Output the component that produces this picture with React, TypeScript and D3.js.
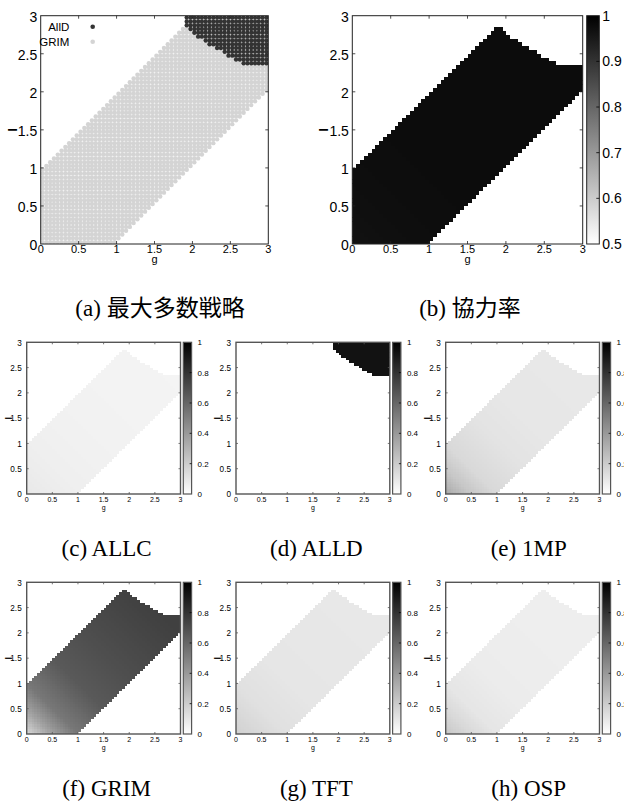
import React, { useEffect, useRef } from 'react';
import * as d3 from 'd3';

// ---- values ----
const axisTicks = [0, 0.5, 1, 1.5, 2, 2.5, 3];
const coopTicks = [0.5, 0.6, 0.7, 0.8, 0.9, 1];
const shareTicks = [0, 0.2, 0.4, 0.6, 0.8, 1];
const gridN = 60; // simulation grid, 0.05 step on g and l

// boundary of the cooperative band (upper edge) and its lower edge
const upperG = [0, 1.9, 2.1, 2.35, 2.6, 2.8, 3];
const upperL = [1, 2.9, 2.7, 2.55, 2.4, 2.33, 2.33];
const lowerG = [1, 3];
const lowerL = [0, 2];
const alldFromG = 1.9; // AllD corner starts here (above the upper edge)

// shares inside the band, sampled along s = g + l
const sKnots = [0, 0.5, 1, 2, 3, 5];
const coopRate = [0.965, 0.97, 0.973, 0.976, 0.977, 0.977];
const allcShare = [0.09, 0.075, 0.065, 0.055, 0.05, 0.045];
const mp1Share = [0.34, 0.22, 0.15, 0.11, 0.095, 0.09];
const grimShare = [0.15, 0.37, 0.53, 0.65, 0.69, 0.75];
const tftShare = [0.18, 0.15, 0.12, 0.1, 0.095, 0.09];
const ospShare = [0.22, 0.15, 0.1, 0.075, 0.07, 0.065];
const alldCorner = 0.93; // ALLD share in the top-right corner

const majorityNames = ['AllD', 'GRIM'];
const majorityColors = ['#333333', '#d4d4d4'];

const bigCaptions = ['(a) 最大多数戦略', '(b) 協力率'];
const smallCaptions = ['(c) ALLC', '(d) ALLD', '(e) 1MP', '(f) GRIM', '(g) TFT', '(h) OSP'];
const smallBand = [allcShare, null, mp1Share, grimShare, tftShare, ospShare];

// ---- layout ----
const sans = '"Liberation Sans", Arial, Helvetica, sans-serif';
const serif = '"Liberation Serif", "Times New Roman", "Noto Sans CJK JP", serif';
const bigX = [[40.7, 268.3], [352.3, 582.7]];
const bigY = [244, 15.7];
const bigCaptionX = [160, 470];
const smallColX = [26.7, 236, 445.7];
const smallRowY = [342.3, 582.3];
const smallW = 153.8;
const smallH = 151.7;
const smallCaptionX = [106.6, 316.4, 528.7];
const smallCaptionY = [556, 796];

type Cell = { g: number; l: number; s: number; region: string };

export default function App() {
    const svgRef = useRef<SVGSVGElement>(null);

    useEffect(() => {
        const svg = d3.select(svgRef.current);
        svg.selectAll('*').remove();

        const upper = d3.scaleLinear().domain(upperG).range(upperL);
        const lower = d3.scaleLinear().domain(lowerG).range(lowerL);
        const step = 3 / gridN;

        const cells: Cell[] = [];
        d3.range(gridN).forEach((i) => {
            d3.range(gridN).forEach((j) => {
                const g = (i + 0.5) * step;
                const l = (j + 0.5) * step;
                const up = upper(g);
                let region = 'none';
                if (l < up - 1e-6 && l > lower(g) + 1e-6) region = 'band';
                else if (g >= alldFromG && l >= up - 1e-6) region = 'alld';
                cells.push({ g, l, s: g + l, region });
            });
        });

        const defs = svg.append('defs');
        const grad = defs.append('linearGradient').attr('id', 'cbar')
            .attr('x1', 0).attr('y1', 1).attr('x2', 0).attr('y2', 0);
        grad.append('stop').attr('offset', '0%').attr('stop-color', '#ffffff');
        grad.append('stop').attr('offset', '100%').attr('stop-color', '#000000');

        let clipId = 0;
        const clip = (x, y) => {
            const id = `clip${clipId++}`;
            defs.append('clipPath').attr('id', id).append('rect')
                .attr('x', x(0)).attr('y', y(3))
                .attr('width', x(3) - x(0)).attr('height', y(0) - y(3));
            return `url(#${id})`;
        };

        const axes = (g, x, y, o) => {
            g.append('rect')
                .attr('x', x(0)).attr('y', y(3))
                .attr('width', x(3) - x(0)).attr('height', y(0) - y(3))
                .attr('fill', 'none').attr('stroke', o.frame).attr('stroke-width', o.fw);
            const tk = g.append('g').attr('stroke', o.frame).attr('stroke-width', 0.8);
            axisTicks.slice(1, -1).forEach((t) => {
                tk.append('line').attr('x1', x(t)).attr('x2', x(t)).attr('y1', y(0)).attr('y2', y(0) - o.tick);
                tk.append('line').attr('x1', x(t)).attr('x2', x(t)).attr('y1', y(3)).attr('y2', y(3) + o.tick);
                tk.append('line').attr('y1', y(t)).attr('y2', y(t)).attr('x1', x(0)).attr('x2', x(0) + o.tick);
                tk.append('line').attr('y1', y(t)).attr('y2', y(t)).attr('x1', x(3)).attr('x2', x(3) - o.tick);
            });
            const lab = g.append('g').attr('font-family', sans).attr('fill', '#000');
            axisTicks.forEach((t) => {
                lab.append('text').attr('x', x(t)).attr('y', y(0) + o.xDy)
                    .attr('font-size', o.xfs).attr('text-anchor', 'middle').text(String(t));
                lab.append('text').attr('x', x(0) - o.yDx).attr('y', y(t) + o.yDy)
                    .attr('font-size', o.yfs).attr('text-anchor', 'end').text(String(t));
            });
            lab.append('text').attr('x', (x(0) + x(3)) / 2).attr('y', y(0) + o.gDy)
                .attr('font-size', o.xfs).attr('text-anchor', 'middle').text('g');
            lab.append('text')
                .attr('transform', `translate(${x(0) - o.lDx},${y(1.5)}) rotate(-90)`)
                .attr('text-anchor', 'middle').attr('font-weight', 'bold')
                .attr('font-size', o.lfs).text('l');
        };

        const colorbar = (g, cx0, cx1, y0, y1, ticks, o) => {
            const cy = d3.scaleLinear().domain([ticks[0], ticks[ticks.length - 1]]).range([y1, y0]);
            g.append('rect').attr('x', cx0).attr('y', y0)
                .attr('width', cx1 - cx0).attr('height', y1 - y0)
                .attr('fill', 'url(#cbar)').attr('stroke', o.frame).attr('stroke-width', o.fw);
            ticks.slice(1, -1).forEach((t) => {
                g.append('line').attr('x1', cx1).attr('x2', cx1 - o.tick)
                    .attr('y1', cy(t)).attr('y2', cy(t)).attr('stroke', '#000').attr('stroke-width', 0.8);
            });
            ticks.forEach((t) => {
                g.append('text').attr('x', cx1 + o.labDx).attr('y', cy(t) + o.yDy)
                    .attr('font-family', sans).attr('font-size', o.fs).text(String(t));
            });
        };

        const heat = (g, x, y, valueOf, color, lo) => {
            const w = x(step) - x(0) + 0.45;
            const h = y(0) - y(step) + 0.45;
            g.attr('shape-rendering', 'crispEdges')
                .selectAll('rect.cell')
                .data(cells.filter((c) => valueOf(c) > lo))
                .join('rect')
                .attr('class', 'cell')
                .attr('x', (d) => x(d.g - step / 2))
                .attr('y', (d) => y(d.l + step / 2))
                .attr('width', w).attr('height', h)
                .attr('fill', (d) => color(valueOf(d)));
        };

        const bigOpts = { frame: '#222', fw: 1, tick: 3, xfs: 11, yfs: 14, xDy: 9.2, yDx: 3.4, yDy: 5.8, gDy: 18.8, lDx: 24, lfs: 12 };
        const smallOpts = { frame: '#555', fw: 1.4, tick: 2, xfs: 7, yfs: 8.2, xDy: 7.7, yDx: 5, yDy: 3.2, gDy: 15.5, lDx: 15, lfs: 9 };

        // (a) majority strategy
        {
            const x = d3.scaleLinear().domain([0, 3]).range(bigX[0]);
            const y = d3.scaleLinear().domain([0, 3]).range(bigY);
            const g = svg.append('g');
            g.append('g').attr('clip-path', clip(x, y))
                .selectAll('circle')
                .data(cells.filter((c) => c.region !== 'none'))
                .join('circle')
                .attr('cx', (d) => x(d.g)).attr('cy', (d) => y(d.l)).attr('r', 2.2)
                .attr('fill', (d) => (d.region === 'alld' ? majorityColors[0] : majorityColors[1]));
            axes(g, x, y, bigOpts);
            majorityNames.forEach((name, k) => {
                const ly = 26.7 + k * 15;
                g.append('text').attr('x', 69.3).attr('y', ly + 4.2).attr('text-anchor', 'end')
                    .attr('font-family', sans).attr('font-size', 11.5).text(name);
                g.append('circle').attr('cx', 92.7).attr('cy', ly).attr('r', 2.3).attr('fill', majorityColors[k]);
            });
            svg.append('text').attr('x', bigCaptionX[0]).attr('y', 316).attr('text-anchor', 'middle')
                .attr('font-family', serif).attr('font-size', 23).text(bigCaptions[0]);
        }

        // (b) cooperation rate
        {
            const x = d3.scaleLinear().domain([0, 3]).range(bigX[1]);
            const y = d3.scaleLinear().domain([0, 3]).range(bigY);
            const g = svg.append('g');
            const rate = d3.scaleLinear().domain(sKnots).range(coopRate).clamp(true);
            const color = d3.scaleLinear<string>().domain([coopTicks[0], 1]).range(['#ffffff', '#000000']).clamp(true);
            const hg = g.append('g').attr('clip-path', clip(x, y));
            heat(hg, x, y, (c) => (c.region === 'band' ? rate(c.s) : 0), color, coopTicks[0]);
            axes(g, x, y, bigOpts);
            colorbar(g, 586.7, 599.3, bigY[1], bigY[0], coopTicks, { frame: '#222', fw: 1, tick: 3, fs: 14, labDx: 3, yDy: 5 });
            svg.append('text').attr('x', bigCaptionX[1]).attr('y', 316).attr('text-anchor', 'middle')
                .attr('font-family', serif).attr('font-size', 23).text(bigCaptions[1]);
        }

        // (c)-(h) strategy shares
        smallCaptions.forEach((cap, k) => {
            const col = k % 3;
            const row = Math.floor(k / 3);
            const x0 = smallColX[col];
            const y0 = smallRowY[row];
            const x = d3.scaleLinear().domain([0, 3]).range([x0, x0 + smallW]);
            const y = d3.scaleLinear().domain([0, 3]).range([y0 + smallH, y0]);
            const color = d3.scaleLinear<string>().domain([0, 1]).range(['#ffffff', '#000000']).clamp(true);
            const band = smallBand[k];
            const share = band ? d3.scaleLinear().domain(sKnots).range(band).clamp(true) : null;
            const valueOf = (c: Cell) => {
                if (share) return c.region === 'band' ? share(c.s) : 0;
                return c.region === 'alld' ? alldCorner : 0;
            };
            const g = svg.append('g');
            const hg = g.append('g').attr('clip-path', clip(x, y));
            heat(hg, x, y, valueOf, color, 0);
            axes(g, x, y, smallOpts);
            colorbar(g, x0 + 156.6, x0 + 164.9, y0, y0 + smallH, shareTicks,
                { frame: '#555', fw: 1.2, tick: 2, fs: 8, labDx: 6, yDy: 3 });
            svg.append('text').attr('x', smallCaptionX[col]).attr('y', smallCaptionY[row])
                .attr('text-anchor', 'middle').attr('font-family', serif).attr('font-size', 23).text(cap);
        });
    }, []);

    return (
        <div style={{ position: 'absolute', left: 0, top: 0 }}>
            <svg ref={svgRef} width={624} height={801} style={{ display: 'block', background: '#fff' }} />
        </div>
    );
}
